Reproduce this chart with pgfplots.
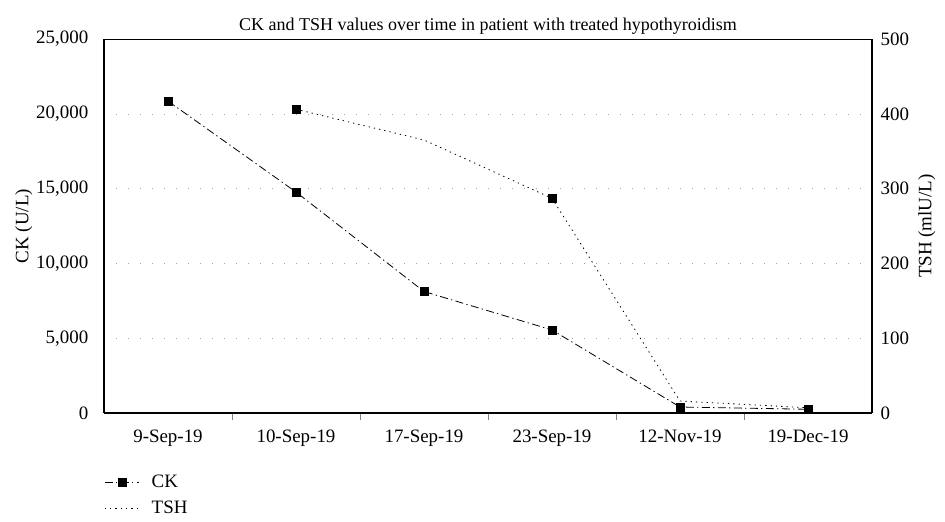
\documentclass[border=0pt]{standalone}
\usepackage{pgfplots}
\pgfplotsset{compat=1.18}
\usepackage{fontspec}
\setmainfont{Liberation Serif}
\begin{document}
\begin{tikzpicture}
\pgfplotsset{
  common/.style={
    scale only axis, width=576pt, height=280.5pt,
    xmin=-0.5, xmax=5.5,
    /pgf/number format/assume math mode=true,
    tick label style={font=\fontsize{14.2}{16}\selectfont},
    label style={font=\fontsize{14.2}{16}\selectfont},
  }
}
\begin{axis}[common, name=main,
  ymin=0, ymax=25000,
  ytick={0,5000,10000,15000,20000,25000},
  /pgf/number format/1000 sep={,},
  scaled y ticks=false,
  axis y line*=left, axis x line*=bottom,
  xtick={0,1,2,3,4,5},
  xticklabels={9-Sep-19,10-Sep-19,17-Sep-19,23-Sep-19,12-Nov-19,19-Dec-19},
  minor xtick={0.5,1.5,2.5,3.5,4.5},
  major x tick style={draw=none},
  minor tick length=5pt,
  tick align=outside,
  major y tick style={draw=none},
  ymajorgrids, grid style={gray!70, dash pattern=on 0.8pt off 8.2pt},
  yticklabel style={xshift=-4pt},
  xticklabel style={yshift=-5pt},
  ylabel={CK (U/L)}, ylabel style={yshift=-4pt},
  title={CK and TSH values over time in patient with treated hypothyroidism},
  title style={font=\fontsize{13.5}{15}\selectfont, yshift=-6pt},
  legend style={at={(0,-0.15)}, anchor=north west, draw=none, fill=none,
    font=\fontsize{14.2}{16}\selectfont, legend cell align=left, row sep=5pt,
    inner xsep=0pt},
  legend image code/.code={%
    \draw[mark repeat=2,mark phase=2,#1] plot coordinates {(0pt,0pt) (13pt,0pt) (26pt,0pt)};},
  axis line style={line width=0.8pt},
]
\addplot[black, line width=0.6pt, dash pattern=on 6pt off 2.5pt on 1pt off 2.5pt,
  mark=square*, mark size=3pt, mark options={solid}]
  coordinates {(0,20850) (1,14770) (2,8120) (3,5550) (4,400) (5,250)};
\addlegendentry{\hspace{7pt}CK}
\addlegendimage{black, line width=0.6pt, dash pattern=on 1pt off 3pt}
\addlegendentry{\hspace{7pt}TSH}
\draw[line width=0.8pt] (rel axis cs:0,1) -- (rel axis cs:1,1);
\end{axis}
\begin{axis}[common,
  ymin=0, ymax=500,
  ytick={0,100,200,300,400,500},
  axis y line*=right, axis x line=none,
  major y tick style={draw=none},
  yticklabel style={xshift=3pt},
  ylabel={TSH (mlU/L)}, ylabel style={yshift=0pt},
  axis line style={line width=0.8pt},
]
\addplot[black, line width=0.6pt, dash pattern=on 1pt off 3pt,
  mark=square*, mark size=3pt, mark options={solid}, mark indices={1,3}]
  coordinates {(1,406) (2,365) (3,287) (4,16) (5,7)};
\end{axis}
\path (main.south west) ++(-78pt,-78.75pt) rectangle ([xshift=54.75pt,yshift=29.25pt]main.north east);
\end{tikzpicture}
\end{document}
